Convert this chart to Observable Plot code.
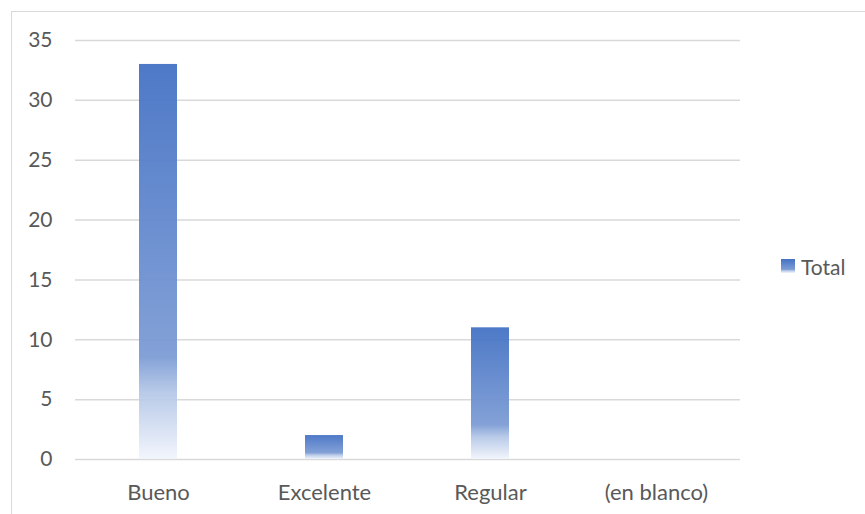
<!DOCTYPE html>
<html>
<head>
<meta charset="utf-8">
<script src="https://cdn.jsdelivr.net/npm/d3@7"></script>
<script src="https://cdn.jsdelivr.net/npm/@observablehq/plot@0.6"></script>
<style>
  html, body { margin: 0; padding: 0; background: #fff; }
  #wrap { position: relative; width: 865px; height: 514px; overflow: hidden; }
  #frame { position: absolute; left: 11px; top: 11px; width: 900px; height: 600px; border: 1px solid #d9d9d9; box-sizing: border-box; pointer-events: none; }
  #legend { position: absolute; left: 781px; top: 253px; height: 26px; display: flex; align-items: center; font-family: Lato, "Open Sans", sans-serif; font-size: 21px; color: #595959; }
  #legend .sw { width: 14px; height: 14px; margin-right: 6px; background: linear-gradient(to bottom, #4472C4 0%, #7D9CD5 74%, #B4C7E7 83%, #F2F5FC 100%); }
</style>
</head>
<body>
<div id="wrap">
  <div id="frame"></div>
  <div id="legend"><div class="sw"></div><span>Total</span></div>
</div>
<script>
const categories = ["Bueno", "Excelente", "Regular", "(en blanco)"];
const totals = [33, 2, 11, 0];
const yTicks = [0, 5, 10, 15, 20, 25, 30, 35];

const rows = categories.map((c, i) => ({ category: c, total: totals[i] }));

const chart = Plot.plot({
  width: 865,
  height: 514,
  marginLeft: 75,
  marginRight: 125,
  marginTop: 40,
  marginBottom: 55,
  style: { fontFamily: "Lato, 'Open Sans', sans-serif", fontSize: "21px", color: "#595959", background: "transparent" },
  x: { domain: categories, paddingInner: 0.77, paddingOuter: 0.385, label: null },
  y: { domain: [0, 35], ticks: yTicks, label: null },
  marks: [
    Plot.gridY(yTicks, { stroke: "#d9d9d9", strokeOpacity: 1, strokeWidth: 1.5 }),
    Plot.barY(rows.filter(d => d.total > 0), { x: "category", y: "total", fill: "url(#barGradient)", fillOpacity: 0.95 }),
    Plot.axisX({ tickSize: 0, tickPadding: 25, fontSize: 22 }),
    Plot.axisY(yTicks, { tickSize: 0, tickPadding: 23, fontSize: 21 })
  ]
});

// Vertical gradient used by every bar, spanning each bar's own height
const ns = "http://www.w3.org/2000/svg";
const defs = document.createElementNS(ns, "defs");
const grad = document.createElementNS(ns, "linearGradient");
grad.setAttribute("id", "barGradient");
grad.setAttribute("x1", "0"); grad.setAttribute("y1", "0");
grad.setAttribute("x2", "0"); grad.setAttribute("y2", "1");
[["0%", "#4472C4"], ["74%", "#7D9CD5"], ["83%", "#B4C7E7"], ["100%", "#F2F5FC"]].forEach(([o, c]) => {
  const s = document.createElementNS(ns, "stop");
  s.setAttribute("offset", o);
  s.setAttribute("stop-color", c);
  grad.appendChild(s);
});
defs.appendChild(grad);
chart.insertBefore(defs, chart.firstChild);

chart.style.position = "absolute";
chart.style.left = "0";
chart.style.top = "0";
document.getElementById("wrap").insertBefore(chart, document.getElementById("frame"));
</script>
</body>
</html>
